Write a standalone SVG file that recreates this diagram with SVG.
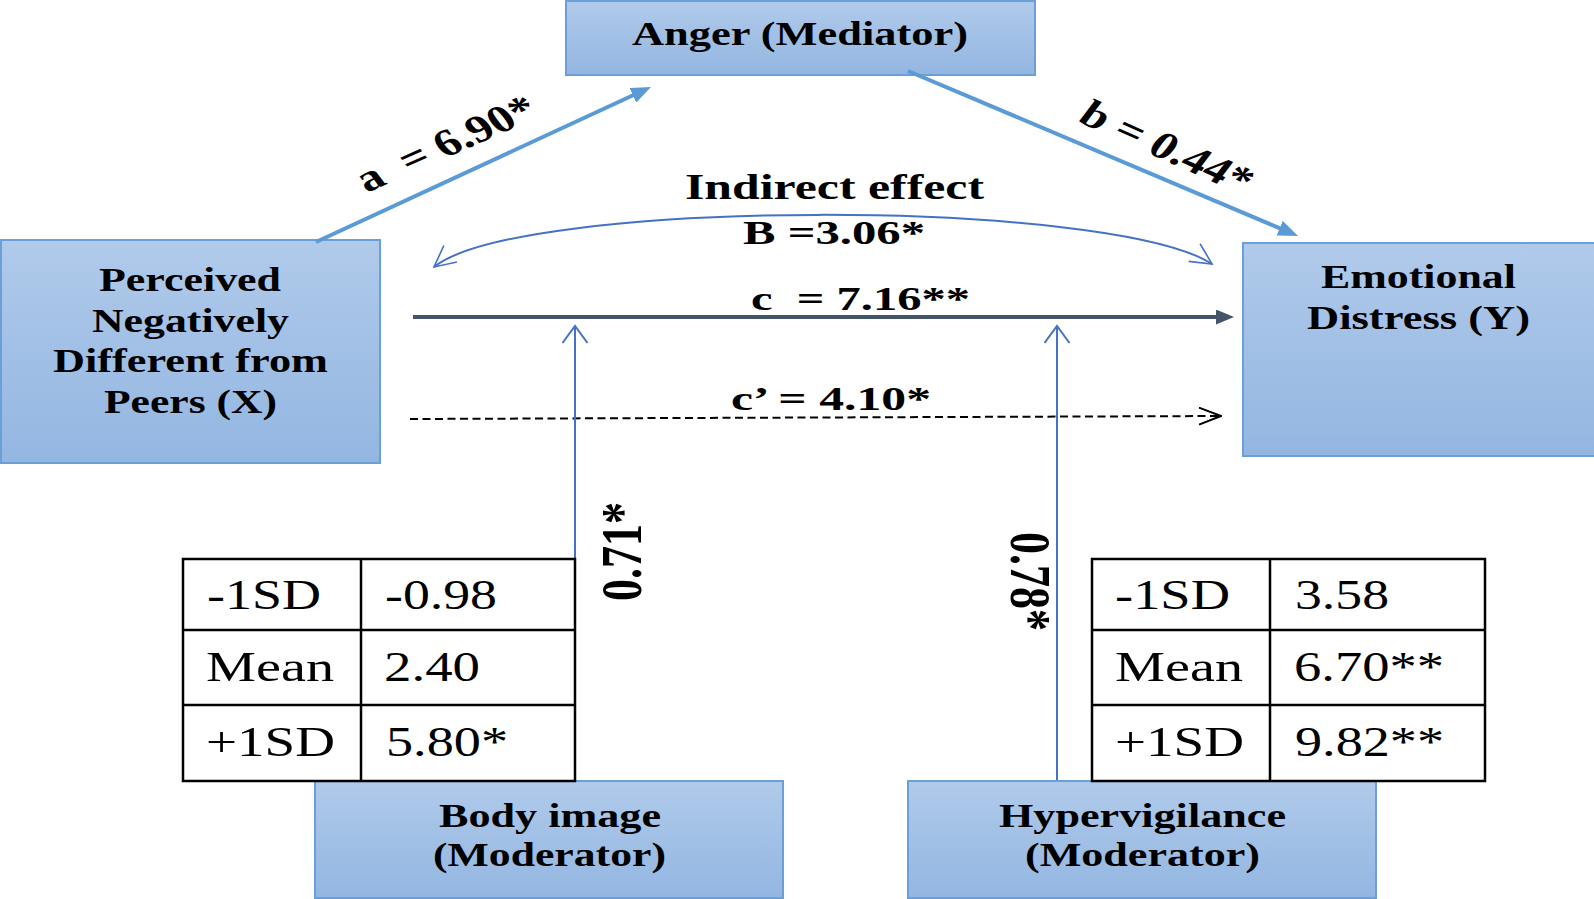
<svg xmlns="http://www.w3.org/2000/svg" width="1594" height="899" viewBox="0 0 1594 899">
<style>
.box { fill: url(#boxg); stroke: #6A9FD8; stroke-width: 2; }
.lb { font-family: "Liberation Serif", "Times New Roman", serif; font-weight: bold; font-size: 34px; fill: #000; white-space: pre; }
.tb { font-family: "Liberation Serif", "Times New Roman", serif; font-size: 42px; fill: #000; white-space: pre; }
.tbl { fill: #fff; stroke: #000; stroke-width: 2.5; }
.tl { stroke: #000; stroke-width: 2.5; }
.blue { stroke: #5B9BD5; stroke-width: 4; fill: none; }
.thin { stroke: #4472C4; stroke-width: 2; fill: none; }
</style>
<defs>
<linearGradient id="boxg" x1="0" y1="0" x2="0" y2="1">
<stop offset="0" stop-color="#B0CAEA"/>
<stop offset="1" stop-color="#93B6E1"/>
</linearGradient>
<marker id="mBlue" viewBox="0 0 20 16" refX="8" refY="8" markerWidth="20" markerHeight="16" markerUnits="userSpaceOnUse" orient="auto">
<path d="M0,0 L20,8 L0,16 z" fill="#5B9BD5"/>
</marker>
<marker id="mDark" viewBox="0 0 18 15" refX="8" refY="7.5" markerWidth="18" markerHeight="15" markerUnits="userSpaceOnUse" orient="auto">
<path d="M0,0 L18,7.5 L0,15 z" fill="#44546A"/>
</marker>
<marker id="mOpenBlack" viewBox="-1 -1 24 19" refX="22" refY="8.5" markerWidth="24" markerHeight="19" markerUnits="userSpaceOnUse" orient="auto">
<path d="M0,0 L22,8.5 L0,17" fill="none" stroke="#000" stroke-width="2" stroke-dasharray="none"/>
</marker>
<marker id="mOpenBlue" viewBox="-1 -1 20 27" refX="17" refY="12.5" markerWidth="20" markerHeight="27" markerUnits="userSpaceOnUse" orient="auto">
<path d="M0,0 L17,12.5 L0,25" fill="none" stroke="#4472C4" stroke-width="2"/>
</marker>
<marker id="mCurve" viewBox="-1 -1 24 24" refX="21" refY="11" markerWidth="24" markerHeight="24" markerUnits="userSpaceOnUse" orient="auto-start-reverse">
<path d="M0,0.5 L21,11 L0,21.5" fill="none" stroke="#4472C4" stroke-width="1.6"/>
</marker>
</defs>
<rect width="1594" height="899" fill="#fff"/>

<g id="node-anger">
<rect class="box" x="566" y="1" width="469" height="74"/>
<text class="lb" x="632" y="45" textLength="336" lengthAdjust="spacingAndGlyphs">Anger (Mediator)</text>
</g>
<g id="node-x">
<rect class="box" x="1" y="240" width="379" height="223"/>
<text class="lb" x="99" y="291" textLength="182" lengthAdjust="spacingAndGlyphs">Perceived</text>
<text class="lb" x="92" y="332" textLength="197" lengthAdjust="spacingAndGlyphs">Negatively</text>
<text class="lb" x="53" y="372" textLength="275" lengthAdjust="spacingAndGlyphs">Different from</text>
<text class="lb" x="104" y="413" textLength="173" lengthAdjust="spacingAndGlyphs">Peers (X)</text>
</g>
<g id="node-y">
<rect class="box" x="1243" y="243" width="356" height="213"/>
<text class="lb" x="1321" y="288" textLength="195" lengthAdjust="spacingAndGlyphs">Emotional</text>
<text class="lb" x="1307" y="329" textLength="223" lengthAdjust="spacingAndGlyphs">Distress (Y)</text>
</g>

<g id="connectors">
<line class="blue" x1="316" y1="242" x2="640.1" y2="92" marker-end="url(#mBlue)"/>
<line class="blue" x1="908" y1="71" x2="1287" y2="231.3" marker-end="url(#mBlue)"/>
<path class="thin" stroke-width="1.6" d="M434,267 C520,198 1110,198 1212,264" marker-start="url(#mCurve)" marker-end="url(#mCurve)"/>
<line x1="413" y1="317" x2="1224" y2="317" stroke="#44546A" stroke-width="4" marker-end="url(#mDark)"/>
<line x1="410" y1="419" x2="1221" y2="416" stroke="#000" stroke-width="2" stroke-dasharray="8,4.5" marker-end="url(#mOpenBlack)"/>
<line class="thin" x1="575" y1="781" x2="575" y2="326" marker-end="url(#mOpenBlue)"/>
<line class="thin" x1="1057" y1="781" x2="1057" y2="326" marker-end="url(#mOpenBlue)"/>
</g>

<g id="edge-labels">
<text class="lb" style="font-size:38px" transform="translate(367,193) scale(1.3,1) rotate(-30)">a  = 6.90*</text>
<text class="lb" style="font-size:38px" transform="translate(1076,121) scale(1.3,1) rotate(30)">b = 0.44*</text>
<text class="lb" style="font-size:35px" x="685" y="199" textLength="299" lengthAdjust="spacingAndGlyphs">Indirect effect</text>
<text class="lb" x="743" y="244" textLength="182" lengthAdjust="spacingAndGlyphs">B =3.06*</text>
<text class="lb" x="751" y="310" textLength="219" lengthAdjust="spacingAndGlyphs">c  = 7.16**</text>
<text class="lb" x="731" y="410" textLength="200" lengthAdjust="spacingAndGlyphs">c’ = 4.10*</text>
<text class="lb" style="font-size:44px" transform="translate(641,601) scale(1.29,1) rotate(-90)">0.71*</text>
<text class="lb" style="font-size:44px" transform="translate(1011,532) scale(1.29,1) rotate(90)">0.78*</text>
</g>

<g id="node-body">
<rect class="box" x="315" y="781" width="468" height="117"/>
<text class="lb" x="439" y="827" textLength="222" lengthAdjust="spacingAndGlyphs">Body image</text>
<text class="lb" x="433" y="866" textLength="233" lengthAdjust="spacingAndGlyphs">(Moderator)</text>
</g>
<g id="node-hyper">
<rect class="box" x="908" y="781" width="468" height="117"/>
<text class="lb" x="999" y="827" textLength="287" lengthAdjust="spacingAndGlyphs">Hypervigilance</text>
<text class="lb" x="1025" y="866" textLength="235" lengthAdjust="spacingAndGlyphs">(Moderator)</text>
</g>

<g id="table-body">
<rect class="tbl" x="183" y="559" width="392" height="222"/>
<line class="tl" x1="361" y1="559" x2="361" y2="781"/>
<line class="tl" x1="183" y1="630" x2="575" y2="630"/>
<line class="tl" x1="183" y1="705" x2="575" y2="705"/>
<text class="tb" x="207" y="609" textLength="114" lengthAdjust="spacingAndGlyphs">-1SD</text>
<text class="tb" x="385" y="609" textLength="112" lengthAdjust="spacingAndGlyphs">-0.98</text>
<text class="tb" x="206" y="681" textLength="128" lengthAdjust="spacingAndGlyphs">Mean</text>
<text class="tb" x="384" y="681" textLength="96" lengthAdjust="spacingAndGlyphs">2.40</text>
<text class="tb" x="206" y="756" textLength="129" lengthAdjust="spacingAndGlyphs">+1SD</text>
<text class="tb" x="386" y="756" textLength="122" lengthAdjust="spacingAndGlyphs">5.80*</text>
</g>
<g id="table-hyper">
<rect class="tbl" x="1092" y="559" width="393" height="222"/>
<line class="tl" x1="1270" y1="559" x2="1270" y2="781"/>
<line class="tl" x1="1092" y1="630" x2="1485" y2="630"/>
<line class="tl" x1="1092" y1="705" x2="1485" y2="705"/>
<text class="tb" x="1115" y="609" textLength="115" lengthAdjust="spacingAndGlyphs">-1SD</text>
<text class="tb" x="1295" y="609" textLength="94" lengthAdjust="spacingAndGlyphs">3.58</text>
<text class="tb" x="1115" y="681" textLength="128" lengthAdjust="spacingAndGlyphs">Mean</text>
<text class="tb" x="1294" y="681" textLength="150" lengthAdjust="spacingAndGlyphs">6.70**</text>
<text class="tb" x="1115" y="756" textLength="129" lengthAdjust="spacingAndGlyphs">+1SD</text>
<text class="tb" x="1295" y="756" textLength="149" lengthAdjust="spacingAndGlyphs">9.82**</text>
</g>
</svg>
